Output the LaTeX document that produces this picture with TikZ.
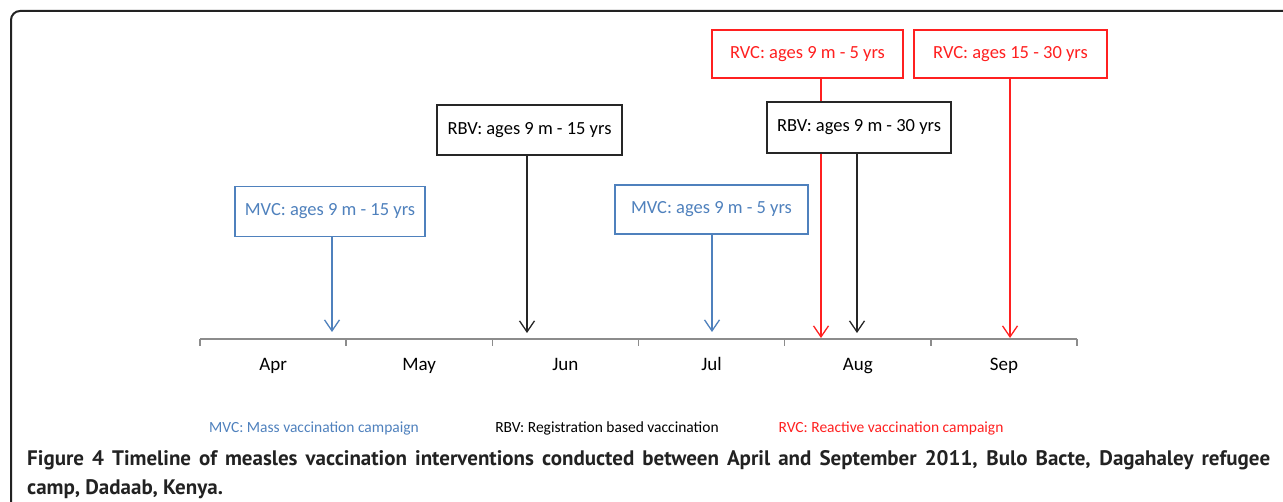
\documentclass[tikz,border=0pt]{standalone}
\usepackage{fontspec}
\setmainfont{Carlito}
\newfontfamily\capfont{PT Sans}
\usetikzlibrary{arrows.meta}
\definecolor{mvcblue}{HTML}{4F81BD}
\definecolor{rvcred}{HTML}{FF2020}
\definecolor{axisgray}{HTML}{8C8C8C}
\definecolor{framegray}{HTML}{222222}

\tikzset{
  agebox/.style={draw, fill=white, line width=1.3pt, inner sep=0pt, minimum height=50pt,
                 font=\fontsize{18.5}{22}\selectfont},
  mvcbox/.style={agebox, draw=mvcblue, text=mvcblue},
  rbvbox/.style={agebox, draw=black!85, text=black},
  rvcbox/.style={agebox, draw=rvcred, text=rvcred},
  shot/.style={line width=1.3pt, -{Straight Barb[length=11pt,width=15pt,line width=1.3pt]}},
  month/.style={anchor=base, font=\fontsize{19}{22}\selectfont},
  legend/.style={anchor=base, font=\fontsize{15.5}{18}\selectfont},
  caption/.style={anchor=base west, inner sep=0pt, text=framegray,
                  font=\capfont\bfseries\fontsize{21}{25}\selectfont},
}

\begin{document}
\begin{tikzpicture}[x=1pt,y=-1pt]
\useasboundingbox (0,0) rectangle (1283,502);
% Frame
\draw[line width=2pt, rounded corners=9pt, framegray] (11,502) |- (1283,11);
% Time axis
\draw[line width=1.4pt, axisgray] (200,339) -- (1077,339);
\foreach \i in {0,...,6}
    \draw[line width=1.4pt, axisgray] (200+146.17*\i,339) -- ++(0,7);
\foreach \m [count=\i] in {Apr,May,Jun,Jul,Aug,Sep}
    \node[month] (m\i) at (200+146.17*\i-73.08,371) {\m};
% Dates on the axis
     \coordinate (tmvc1) at (332,332);
     \coordinate (trbv1) at (527,333);
     \coordinate (tmvc2) at (712,332);
     \coordinate (trvc1) at (821,338);
     \coordinate (trbv2) at (857,333);
     \coordinate (trvc2) at (1010,338);
% Interventions
     \node[mvcbox, minimum width=190pt] (mvc1) at (330,211.5) {MVC: ages 9 m - 15 yrs};
     \node[rbvbox, minimum width=185pt] (rbv1) at (529.5,130) {RBV: ages 9 m - 15 yrs};
     \node[mvcbox, minimum width=193pt, minimum height=49pt] (mvc2) at (711.5,209.5) {MVC: ages 9 m - 5 yrs};
     \node[rvcbox, minimum width=191pt, minimum height=48pt] (rvc1) at (807.5,54) {RVC: ages 9 m - 5 yrs};
     \node[rvcbox, minimum width=193pt, minimum height=48pt] (rvc2) at (1010.5,54) {RVC: ages 15 - 30 yrs};
     %
     \draw[shot, mvcblue] (mvc1.south -| tmvc1) -- (tmvc1);
     \draw[shot, black!85] (rbv1.south -| trbv1) -- (trbv1);
     \draw[shot, mvcblue] (mvc2.south -| tmvc2) -- (tmvc2);
     \draw[shot, rvcred] (rvc1.south -| trvc1) -- (trvc1);
     \draw[shot, rvcred] (rvc2.south -| trvc2) -- (trvc2);
     % the second RBV box hides the red line behind it
     \node[rbvbox, minimum width=184pt, minimum height=51pt] (rbv2) at (859,127.5) {RBV: ages 9 m - 30 yrs};
     \draw[shot, black!85] (rbv2.south -| trbv2) -- (trbv2);
% Legend
\node[legend, text=mvcblue] (lmvc) at (314,433) {MVC: Mass vaccination campaign};
\node[legend, text=black] (lrbv) at (607,433) {RBV: Registration based vaccination};
\node[legend, text=rvcred] (lrvc) at (891,433) {RVC: Reactive vaccination campaign};
% Caption
\node[caption] (cap1) at (27,466)
    {\makebox[1243pt][s]{Figure 4 Timeline of measles vaccination interventions conducted between April and September 2011, Bulo Bacte, Dagahaley refugee}};
\node[caption] (cap2) at (27,494) {camp, Dadaab, Kenya.};
\end{tikzpicture}
\end{document}
